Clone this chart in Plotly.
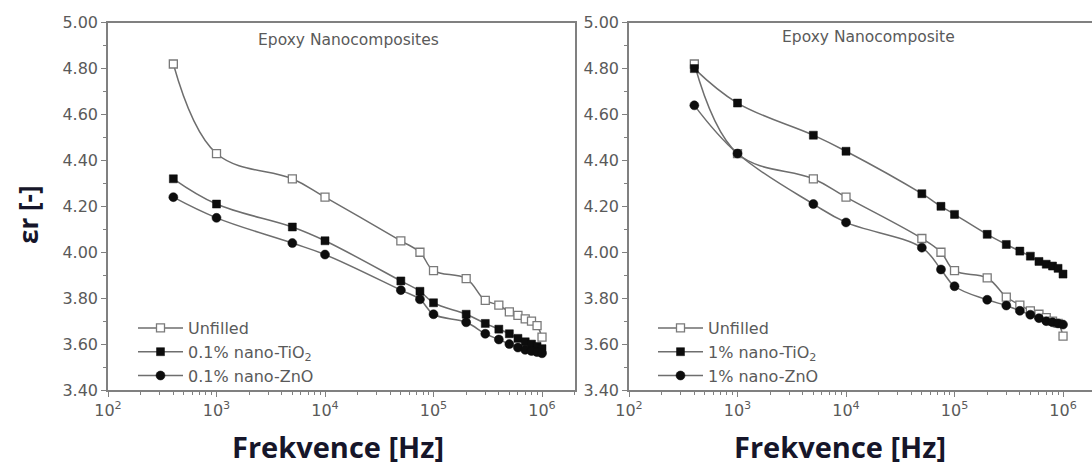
import plotly.graph_objects as go

# ---------------- data ----------------
freq = [400, 1e3, 5e3, 1e4, 5e4, 7.5e4, 1e5, 2e5, 3e5, 4e5, 5e5, 6e5, 7e5, 8e5, 9e5, 1e6]

left_unfilled = [4.82, 4.43, 4.32, 4.24, 4.05, 4.00, 3.92, 3.885, 3.79, 3.77, 3.74, 3.725, 3.71, 3.70, 3.68, 3.63]
left_tio2 = [4.32, 4.21, 4.11, 4.05, 3.875, 3.83, 3.78, 3.73, 3.69, 3.665, 3.645, 3.625, 3.61, 3.60, 3.59, 3.58]
left_zno = [4.24, 4.15, 4.04, 3.99, 3.835, 3.795, 3.73, 3.695, 3.645, 3.62, 3.60, 3.585, 3.575, 3.57, 3.565, 3.56]

right_unfilled = [4.82, 4.43, 4.32, 4.24, 4.06, 4.00, 3.92, 3.888, 3.805, 3.77, 3.745, 3.73, 3.715, 3.70, 3.69, 3.635]
right_tio2 = [4.80, 4.65, 4.51, 4.44, 4.255, 4.20, 4.165, 4.078, 4.034, 4.005, 3.983, 3.96, 3.948, 3.94, 3.93, 3.905]
right_zno = [4.64, 4.43, 4.21, 4.13, 4.02, 3.925, 3.852, 3.793, 3.768, 3.745, 3.728, 3.713, 3.70, 3.695, 3.69, 3.685]

left_names = ["Unfilled", "0.1% nano-TiO<sub>2</sub>", "0.1% nano-ZnO"]
right_names = ["Unfilled", "1% nano-TiO<sub>2</sub>", "1% nano-ZnO"]
left_title = "Epoxy Nanocomposites"
right_title = "Epoxy Nanocomposite"
x_title = "Frekvence [Hz]"
y_title = "εr [-]"
xtick_vals = [1e2, 1e3, 1e4, 1e5, 1e6]
xtick_text = ["10<sup>2</sup>", "10<sup>3</sup>", "10<sup>4</sup>", "10<sup>5</sup>", "10<sup>6</sup>"]

# ---------------- style ----------------
W, H = 1092, 471
LINE = "#6e6e6e"
AX = "#808080"
TXT = "#5a5a5a"
DARK = "#16162a"
FONT = "DejaVu Sans"

styles = [
    dict(symbol="square", size=8, color="white", line=dict(color="#7a7a7a", width=1.3)),
    dict(symbol="square", size=8, color="#0d0d0d", line=dict(color="#0d0d0d", width=0.5)),
    dict(symbol="circle", size=9, color="#0d0d0d", line=dict(color="#0d0d0d", width=0.5)),
]

fig = go.Figure()

def add_panel(series, names, xa, ya, legend):
    for i, (vals, name) in enumerate(zip(series, names)):
        fig.add_trace(go.Scatter(
            x=freq, y=vals, name=name, mode="lines+markers",
            line=dict(color=LINE, width=1.5, shape="spline", smoothing=1.1),
            marker=styles[i], xaxis=xa, yaxis=ya, legend=legend,
            legendgroup=f"{legend}{i}",
        ))

add_panel([left_unfilled, left_tio2, left_zno], left_names, "x", "y", "legend")
add_panel([right_unfilled, right_tio2, right_zno], right_names, "x2", "y2", "legend2")

ytop = (H - 22.7) / H
ybot = (H - 390) / H

xcommon = dict(
    type="log", showgrid=False, zeroline=False, showline=True, linecolor=AX, linewidth=1.5,
    ticks="outside", ticklen=5, tickcolor=AX, tickwidth=1, automargin=False,
    tickvals=xtick_vals, ticktext=xtick_text,
    tickfont=dict(family=FONT, size=16, color=TXT),
    minor=dict(ticks="outside", ticklen=3, tickcolor=AX, dtick="D1", showgrid=False),
)
ycommon = dict(
    range=[3.4, 5.0], showgrid=False, zeroline=False, showline=True, linecolor=AX, linewidth=1.5,
    ticks="outside", ticklen=5, tickcolor=AX, tickwidth=1, dtick=0.2, tick0=3.4, automargin=False,
    tickformat=".2f", tickfont=dict(family=FONT, size=16, color=TXT),
    minor=dict(ticks="outside", ticklen=3, tickcolor=AX, dtick=0.1, showgrid=False),
)

legend_common = dict(
    font=dict(family=FONT, size=16, color=TXT), bgcolor="rgba(0,0,0,0)",
    xanchor="left", yanchor="top", traceorder="grouped", tracegroupgap=0,
    itemwidth=45,
)

def ann(text, x, y, size, family=FONT, color=TXT, angle=0):
    return dict(text=text, x=x / W, y=(H - y) / H, xref="paper", yref="paper",
                xanchor="center", yanchor="middle", showarrow=False, textangle=angle,
                font=dict(family=family, size=size, color=color))

fig.update_layout(
    width=W, height=H, margin=dict(l=0, r=0, t=0, b=0, autoexpand=False),
    paper_bgcolor="white", plot_bgcolor="white",
    xaxis=dict(domain=[108 / W, 575 / W], range=[2, 6.304], mirror=True, **xcommon),
    yaxis=dict(domain=[ybot, ytop], mirror=True, **ycommon),
    xaxis2=dict(domain=[629 / W, 1.0], range=[2, 6.267], mirror=True, anchor="y2", **xcommon),
    yaxis2=dict(domain=[ybot, ytop], mirror=False, anchor="x2", **ycommon),
    legend=dict(x=133 / W, y=(H - 311) / H, **legend_common),
    legend2=dict(x=653 / W, y=(H - 311) / H, **legend_common),
    showlegend=True,
    annotations=[
        ann(left_title, 348, 40, 15.5),
        ann(right_title, 868, 37, 15.5),
        ann(f"<b>{x_title}</b>", 338, 446, 29, "Open Sans", DARK),
        ann(f"<b>{x_title}</b>", 840, 446, 29, "Open Sans", DARK),
        ann(f"<b>{y_title}</b>", 28, 215, 26, "Open Sans", DARK, -90),
    ],
)

fig.write_html("out.html")
